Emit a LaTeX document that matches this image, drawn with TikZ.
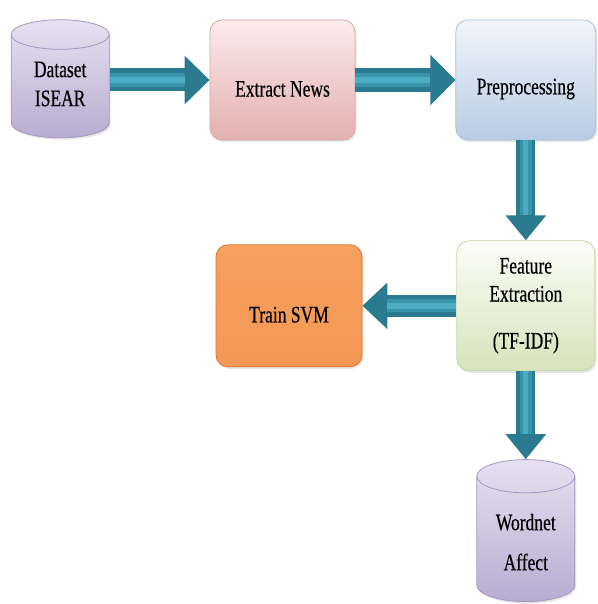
\documentclass[tikz,border=0pt]{standalone}
\usepackage{fontspec}
\setmainfont{Liberation Serif}[FakeBold=0.5]
\usepackage{graphicx}
\usetikzlibrary{positioning,shapes.geometric,arrows.meta,shadows}

\definecolor{flowdark}{HTML}{2B7B90}
\definecolor{flowmid}{HTML}{3794AB}
\definecolor{flowlight}{HTML}{4BACC4}
\definecolor{storetop}{HTML}{E6E1F1}
\definecolor{storebot}{HTML}{B9ACD2}
\definecolor{storeline}{HTML}{A596C2}

\newcommand{\tall}[1]{\scalebox{1}[1.35]{#1}}
\newcommand{\lowered}[1]{\raisebox{-9pt}[\height][\depth]{\tall{#1}}}
\newcommand{\raised}[1]{\raisebox{5pt}[\height][\depth]{\tall{#1}}}

\tikzset{
  stage/.style={rectangle, rounded corners=12pt, draw, line width=0.8pt,
    minimum height=120pt, align=center,
    font=\fontsize{17.5}{28}\selectfont,
    drop shadow={opacity=0.2, shadow xshift=1.5pt, shadow yshift=-2pt}},
  store/.style={cylinder, shape border rotate=90, aspect=0.5, draw=storeline,
    line width=0.8pt, top color=storetop, bottom color=storebot,
    minimum width=98pt, align=center,
    font=\fontsize{17.5}{29}\selectfont,
    drop shadow={opacity=0.2, shadow xshift=1.5pt, shadow yshift=-2pt}},
  flow/.style={draw=flowdark, line width=#1,
    -{Triangle[length=25pt, width=2.05*#1]},
    postaction={draw=flowmid, line width=0.6*#1, -, shorten >=25pt},
    postaction={draw=flowlight, line width=0.25*#1, -, shorten >=25pt}}
}

\begin{document}
\begin{tikzpicture}
 \useasboundingbox (0,0) rectangle (597pt,-604pt);
 \node [stage, minimum width=145pt,
   top color={rgb,255:red,252;green,236;blue,236}, bottom color={rgb,255:red,228;green,176;blue,176},
   draw={rgb,255:red,216;green,164;blue,164}] (extract) at (282.5pt,-80pt)
   {\lowered{Extract News}};
 \node [store, left=100pt of extract, yshift=-9pt, minimum height=118pt] (dataset)
   {\raised{Dataset}\\\raised{ISEAR}};
 \node [stage, right=100pt of extract, minimum width=140pt,
   top color={rgb,255:red,241;green,245;blue,251}, bottom color={rgb,255:red,184;green,204;blue,228},
   draw={rgb,255:red,168;green,190;blue,218}] (preproc)
   {\lowered{Preprocessing}};
 \node [stage, below=100pt of preproc, minimum width=138pt, minimum height=130pt,
   top color={rgb,255:red,252;green,253;blue,247}, bottom color={rgb,255:red,214;green,227;blue,188},
   draw={rgb,255:red,200;green,216;blue,168}] (feature)
   {\tall{Feature}\\\tall{Extraction}\\[19pt]\tall{(TF-IDF)}};
 \node [stage, left=94pt of feature, minimum width=146pt, minimum height=122pt,
   top color={rgb,255:red,247;green,160;blue,96}, middle color={rgb,255:red,242;green,132;blue,50},
   bottom color={rgb,255:red,244;green,152;blue,84},
   draw={rgb,255:red,222;green,118;blue,46}] (train)
   {\lowered{Train SVM}};
 \node [store, below=88pt of feature, minimum height=142pt] (wordnet)
   {\tall{Wordnet}\\[11pt]\tall{Affect}};

 \draw [flow=23pt] (dataset.east |- extract) -- (extract);
 \draw [flow=24pt] (extract) -- (preproc);
 \draw [flow=19pt] (preproc) -- (feature);
 \draw [flow=22pt] (feature) -- (train);
 \draw [flow=19pt] (feature) -- (wordnet.north);
\end{tikzpicture}
\end{document}
